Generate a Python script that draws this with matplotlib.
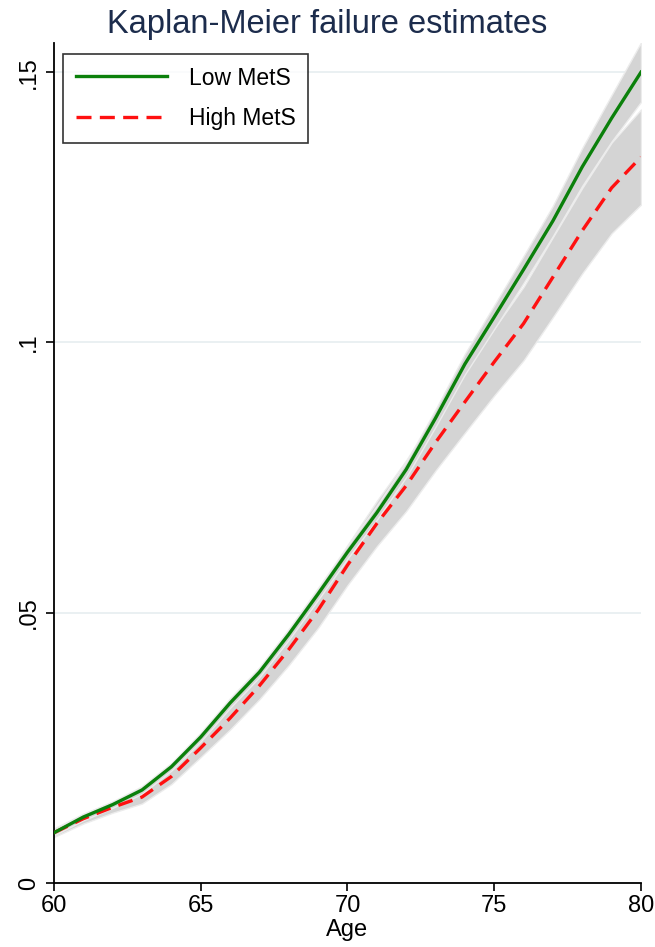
import matplotlib.pyplot as plt
import numpy as np

plt.rcParams['font.family'] = ['Liberation Sans', 'DejaVu Sans']

age = np.arange(60, 81)
low_mets = [0.0093, 0.0122, 0.0145, 0.0172, 0.0215, 0.0270, 0.0333, 0.0390, 0.0460, 0.0535,
            0.0612, 0.0685, 0.0765, 0.0860, 0.0960, 0.1047, 0.1135, 0.1225, 0.1325, 0.1415, 0.1500]
high_mets = [0.0093, 0.0119, 0.0140, 0.0159, 0.0197, 0.0250, 0.0305, 0.0365, 0.0432, 0.0505,
             0.0588, 0.0665, 0.0735, 0.0815, 0.0890, 0.0964, 0.1035, 0.1121, 0.1207, 0.1286, 0.1343]
# half-widths of the 95% CI bands
low_ci = [0.0005, 0.0006, 0.0006, 0.0007, 0.0007, 0.0008, 0.0009, 0.0009, 0.0010, 0.0011,
          0.0012, 0.0013, 0.0014, 0.0016, 0.0019, 0.0022, 0.0025, 0.0028, 0.0035, 0.0043, 0.0055]
high_ci = [0.0008, 0.0009, 0.0010, 0.0012, 0.0014, 0.0017, 0.0021, 0.0025, 0.0029, 0.0033,
           0.0037, 0.0042, 0.0047, 0.0052, 0.0057, 0.0062, 0.0068, 0.0074, 0.0079, 0.0084, 0.0088]

low = np.asarray(low_mets)
high = np.asarray(high_mets)

fig = plt.figure(figsize=(6.55, 9.47), dpi=100)
ax = fig.add_axes([0.0824, 0.0676, 0.8962, 0.887])

ax.fill_between(age, high - np.asarray(high_ci), high + np.asarray(high_ci),
                color='#d4d4d4', edgecolor='#ececec', linewidth=1.0, zorder=1)
ax.fill_between(age, low - np.asarray(low_ci), low + np.asarray(low_ci),
                color='#d4d4d4', edgecolor='#ececec', linewidth=1.0, zorder=2)

ax.plot(age, low, color='#0b800b', lw=2.4, label='Low MetS', zorder=4)
ax.plot(age, high, color='#ff1010', lw=2.4, ls=(0, (4.5, 2.5)), label='High MetS', zorder=3)

ax.set_xlim(60, 80)
ax.set_ylim(0, 0.1554)
ax.set_xticks([60, 65, 70, 75, 80])
ax.set_yticks([0, 0.05, 0.1, 0.15])
ax.set_yticklabels(['0', '.05', '.1', '.15'], rotation=90, va='center')
ax.tick_params(labelsize=17, length=6, width=1.2, colors='black')
ax.tick_params(axis='x', pad=3)
ax.tick_params(axis='y', pad=4)
ax.yaxis.grid(True, color='#e6eef0', lw=1.2)
ax.set_axisbelow(True)
for s in ['top', 'right']:
    ax.spines[s].set_visible(False)
for s in ['left', 'bottom']:
    ax.spines[s].set_linewidth(1.3)

ax.set_xlabel('Age', fontsize=17, labelpad=1)
fig.suptitle('Kaplan-Meier failure estimates', fontsize=23.5, color='#1c2c4c', y=0.991, va='top')

leg = ax.legend(loc='upper left', bbox_to_anchor=(0.0153, 0.987), fontsize=16.5, frameon=True,
                fancybox=False, edgecolor='black', handlelength=4.0, borderpad=0.55,
                labelspacing=0.78, handletextpad=0.95, borderaxespad=0)
leg.get_frame().set_linewidth(1.2)

fig.savefig('out.png', dpi=100)
